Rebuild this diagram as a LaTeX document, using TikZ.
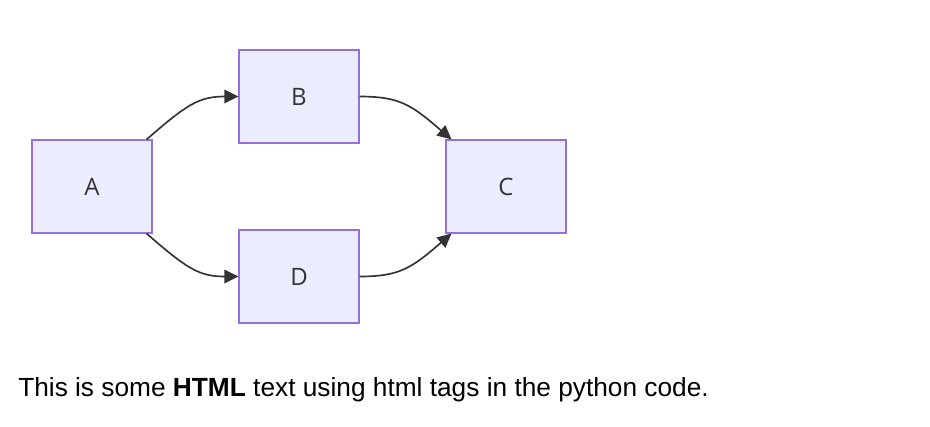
\documentclass[tikz,border=0pt]{standalone}
\usepackage{fontspec}
\setmainfont{Liberation Sans}
\newfontfamily\boxfont{Open Sans}
\usetikzlibrary{arrows.meta}
\definecolor{boxfill}{HTML}{ECECFF}
\definecolor{boxline}{HTML}{9370DB}
\definecolor{edgeline}{HTML}{333333}
\begin{document}
\begin{tikzpicture}[x=0.75pt, y=0.75pt]
\tikzset{flowbox/.style={draw=boxline, line width=0.8pt, fill=boxfill, minimum width=90pt, minimum height=69.75pt, inner sep=0pt, font=\boxfont\fontsize{18}{21}\selectfont, text=edgeline},
flowedge/.style={draw=edgeline, line width=1.25pt, -{Triangle[length=10.5pt, width=10pt]}}}
\useasboundingbox (0,0) rectangle (930,426);

\node[flowbox] (A) at (92,239.5) {A};
\node[flowbox] (B) at (299,329.5) {B};
\node[flowbox] (C) at (506,239.5) {C};
\node[flowbox] (D) at (299,149.5) {D};

\draw[flowedge] ([xshift=-4.5pt]A.north east) .. controls +(30pt,26pt) and +(-30pt,0pt) .. (B.west);
\draw[flowedge] ([xshift=-4.5pt]A.south east) .. controls +(30pt,-26pt) and +(-30pt,0pt) .. (D.west);
\draw[flowedge] (B.east) .. controls +(30pt,0pt) and +(-30pt,26pt) .. ([xshift=4.5pt]C.north west);
\draw[flowedge] (D.east) .. controls +(30pt,0pt) and +(-30pt,-26pt) .. ([xshift=4.5pt]C.south west);

\node[anchor=base west, inner sep=0pt, font=\fontsize{19.7}{23}\selectfont, text=black] (note) at (18,30) {This is some \textbf{HTML} text using html tags in the python code.};
\end{tikzpicture}
\end{document}
